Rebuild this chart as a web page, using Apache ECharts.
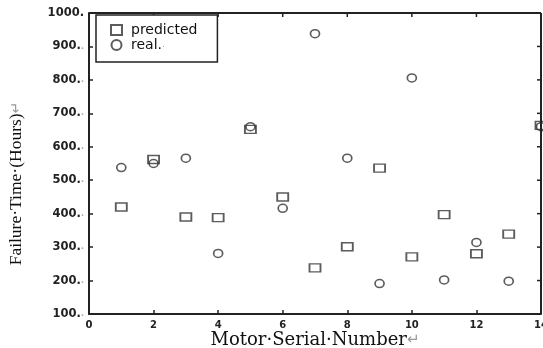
<!DOCTYPE html>
<html><head><meta charset="utf-8">
<script src="https://cdn.jsdelivr.net/npm/echarts@6/dist/echarts.min.js"></script>
<style>html,body{margin:0;padding:0;background:#fff}#c{width:543px;height:348px}</style>
</head><body><div id="c"></div>
<script>
var motors = [1,2,3,4,5,6,7,8,9,10,11,12,13,14];
var predicted = [420,562,390,388,652,450,238,301,536,271,397,280,339,664];
var real = [538,550,566,281,660,416,938,566,191,806,202,314,198,660];
var xTicks = [0,2,4,6,8,10,12,14];
var yTicks = [100,200,300,400,500,600,700,800,900,1000];

var chart = echarts.init(document.getElementById('c'));
var ink = '#222';
var sym = function(name, vals, shape, size){
  return {
    name: name, type: 'scatter', symbol: shape, symbolSize: size, clip: false,
    data: motors.map(function(m,i){return [m, vals[i]];}),
    itemStyle: {color: 'rgba(255,255,255,0)', borderColor: '#333', borderWidth: 1.6}
  };
};
chart.setOption({
  animation: false,
  grid: {left: 89, right: 2, top: 13, bottom: 34, containLabel: false, outerBoundsMode: 'none'},
  legend: {
    left: 96, top: 15, orient: 'vertical', itemWidth: 11, itemHeight: 10, itemGap: 1,
    padding: [8, 20, 10, 14], borderColor: ink, borderWidth: 1.5, backgroundColor: '#fff',
    textStyle: {fontFamily: 'DejaVu Sans', fontSize: 14, color: '#111', padding: [0,0,0,4],
      rich: {g: {color: '#999', fontSize: 9}}},
    formatter: function(n){ return n === 'real' ? 'real.{g|.}' : n; },
    data: [{name:'predicted', icon:'rect'}, {name:'real', icon:'circle'}]
  },
  xAxis: {
    type: 'value', min: 0, max: 14, interval: 2,
    name: 'Motor\u00b7Serial\u00b7Number{g|\u21b5}', nameLocation: 'middle', nameGap: 16,
    nameMoveOverlap: false,
    nameTextStyle: {fontFamily: 'DejaVu Serif', fontSize: 18, lineHeight: 20, color: '#111',
      verticalAlign: 'top',
      rich: {g: {color: '#999', fontSize: 15, lineHeight: 20, fontFamily: 'DejaVu Sans'}}},
    axisLine: {show: true, lineStyle: {color: ink, width: 2}},
    axisTick: {show: true, inside: true, length: 4, lineStyle: {color: ink, width: 1.5}},
    axisLabel: {fontFamily: 'DejaVu Sans', fontSize: 10, fontWeight: 'bold', color: '#222', margin: 6},
    splitLine: {show: false}
  },
  yAxis: {
    type: 'value', min: 100, max: 1000, interval: 100,
    name: 'Failure\u00b7Time\u00b7(Hours){g|\u21b5}', nameLocation: 'middle', nameGap: 64,
    nameMoveOverlap: false,
    nameTextStyle: {fontFamily: 'Liberation Serif, Times New Roman', fontSize: 17.5, color: '#111',
      padding: [0, 40, 0, 0],
      rich: {g: {color: '#999', fontSize: 14, fontFamily: 'DejaVu Sans'}}},
    axisLine: {show: true, lineStyle: {color: ink, width: 2}},
    axisTick: {show: true, inside: true, length: 4, lineStyle: {color: ink, width: 1.5}},
    axisLabel: {fontFamily: 'DejaVu Sans', fontSize: 11.5, fontWeight: 'bold', color: '#222', margin: 5,
      formatter: function(v){ return v === 1000 ? '1000.' : v + '.{g|.}'; },
      rich: {g: {color: '#aaa', fontSize: 8}}},
    splitLine: {show: false}
  },
  series: [
    sym('predicted', predicted, 'rect', [11, 8]),
    sym('real', real, 'circle', [9, 8]),
    {type:'line', xAxisIndex:0, yAxisIndex:0, data: [], silent: true,
     markLine: {symbol: 'none', silent: true, label:{show:false},
       lineStyle: {color: ink, width: 2, type: 'solid'},
       data: [[{coord:[0,1000]},{coord:[14,1000]}], [{coord:[14,100]},{coord:[14,1000]}]]}}
  ]
});
var g = [];
xTicks.forEach(function(t){ if(t>0 && t<14){ var p = chart.convertToPixel({gridIndex:0}, [t,1000]);
  g.push({type:'line', shape:{x1:p[0],y1:p[1],x2:p[0],y2:p[1]+4}, style:{stroke:ink, lineWidth:1.5}}); }});
yTicks.forEach(function(t){ if(t>100 && t<1000){ var p = chart.convertToPixel({gridIndex:0}, [14,t]);
  g.push({type:'line', shape:{x1:p[0]-4,y1:p[1],x2:p[0],y2:p[1]}, style:{stroke:ink, lineWidth:1.5}}); }});
chart.setOption({graphic: g});
</script></body></html>
